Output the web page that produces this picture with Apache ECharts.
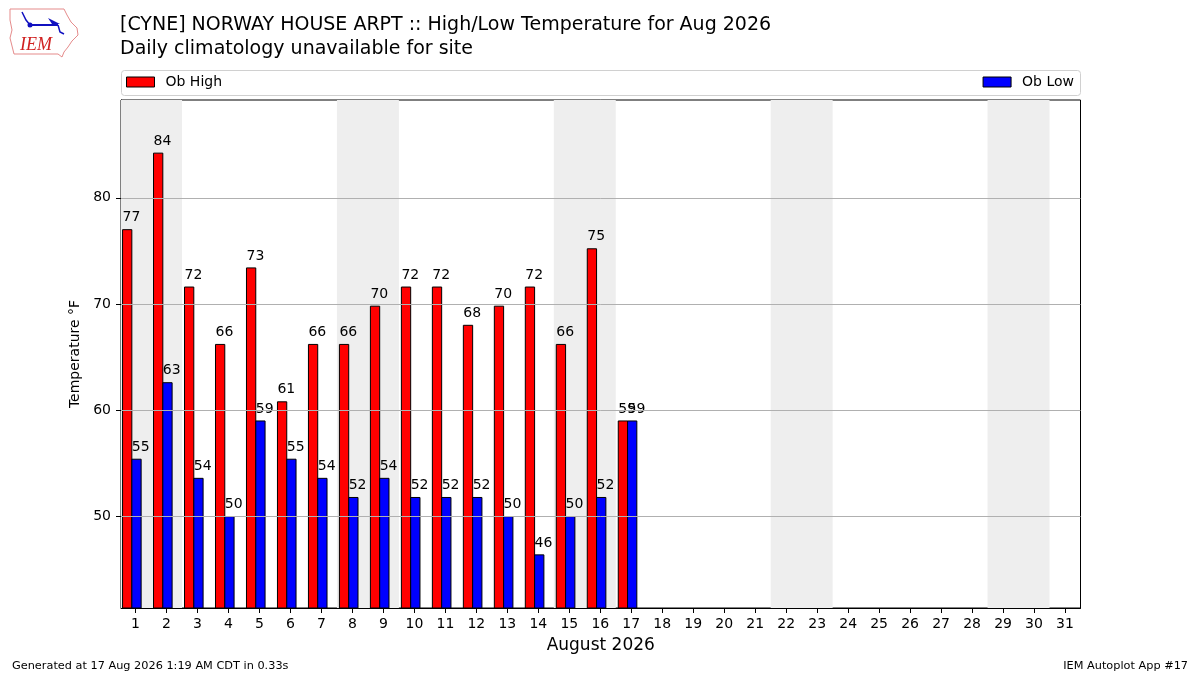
<!DOCTYPE html>
<html>
<head>
<meta charset="utf-8">
<script src="https://cdn.jsdelivr.net/npm/echarts@6/dist/echarts.min.js"></script>
<style>
html,body{margin:0;padding:0;background:#fff;}
#chart{width:1200px;height:675px;}
</style>
</head>
<body>
<div id="chart"></div>
<script>
// ---- data ----
const days = [1,2,3,4,5,6,7,8,9,10,11,12,13,14,15,16,17];
const obHigh = [77.0,84.2,71.6,66.2,73.4,60.8,66.2,66.2,69.8,71.6,71.6,68.0,69.8,71.6,66.2,75.2,59.0];
const obLow  = [55.4,62.6,53.6,50.0,59.0,55.4,53.6,51.8,53.6,51.8,51.8,51.8,50.0,46.4,50.0,51.8,59.0];
const xTicks = [1,2,3,4,5,6,7,8,9,10,11,12,13,14,15,16,17,18,19,20,21,22,23,24,25,26,27,28,29,30,31];
const yTicks = [50,60,70,80];
const weekends = [[1,2],[8,9],[15,16],[22,23],[29,30]];
const titleText = '[CYNE] NORWAY HOUSE ARPT :: High/Low Temperature for Aug 2026';
const subtitleText = 'Daily climatology unavailable for site';
const yMin = 41.4, yMax = 89.2;

const FONT = 'DejaVu Sans';
const chart = echarts.init(document.getElementById('chart'), null, {renderer:'canvas'});

function barRenderer(off0, off1, color) {
  return function (params, api) {
    const d = api.value(0), v = api.value(1);
    const p0 = api.coord([d + off0, v]);
    const p1 = api.coord([d + off1, yMin]);
    return {
      type: 'group',
      children: [
        {type:'rect', shape:{x:p0[0], y:p0[1], width:p1[0]-p0[0], height:p1[1]-p0[1]},
         style:{fill:color, stroke:'#000', lineWidth:1}},
        {type:'text', z2: 20, style:{text:String(Math.round(v)), x:p0[0], y:p0[1]-5,
         align:'left', verticalAlign:'bottom', font:'14px "DejaVu Sans"', fill:'#000'}}
      ]
    };
  };
}

const option = {
  backgroundColor: '#fff',
  animation: false,
  textStyle: {fontFamily: FONT},
  title: [
    {text: titleText, left: 120, top: 16, padding:0, textStyle:{fontSize:19, fontWeight:'normal', color:'#000', fontFamily:FONT}},
    {text: subtitleText, left: 120, top: 40, padding:0, textStyle:{fontSize:19, fontWeight:'normal', color:'#000', fontFamily:FONT}},
    {text: 'Generated at 17 Aug 2026 1:19 AM CDT in 0.33s', left: 12, top: 661, padding:0, textStyle:{fontSize:11.3, fontWeight:'normal', color:'#000', fontFamily:FONT}},
    {text: 'IEM Autoplot App #17', right: 12, top: 661, padding:0, textStyle:{fontSize:11.3, fontWeight:'normal', color:'#000', fontFamily:FONT}}
  ],
  legend: [
    {data:['Ob High'], left: 126, top: 75, padding:0, icon:'rect', itemWidth: 28, itemHeight: 10,
     itemStyle:{borderColor:'#000', borderWidth:1},
     textStyle:{fontSize:14, color:'#000', fontFamily:FONT, padding:[0,0,0,6]}},
    {data:['Ob Low'], right: 126, top: 75, padding:0, icon:'rect', itemWidth: 28, itemHeight: 10,
     itemStyle:{borderColor:'#000', borderWidth:1},
     textStyle:{fontSize:14, color:'#000', fontFamily:FONT, padding:[0,0,0,6]}}
  ],
  graphic: [
    {type:'rect', left:121, top:70, z:-1, shape:{width:959, height:25, r:3},
     style:{fill:'#fff', stroke:'#d0d0d0', lineWidth:1}},
    // simple IEM logo
    {type:'polygon', z:1, shape:{points:[[10,9],[64,9],[67,15],[71,22],[77,28],[78,35],[72,41],[68,47],[64,52],[62,57],[58,54],[14,54],[12,46],[10,38],[12,30],[10,20]]},
     style:{fill:'none', stroke:'#e58b8b', lineWidth:1}},
    {type:'polyline', z:2, shape:{points:[[30,25],[58,25]]}, style:{stroke:'#1010c0', lineWidth:2}},
    {type:'polyline', z:2, shape:{points:[[58,25],[60,32],[64,34]]}, style:{stroke:'#1010c0', lineWidth:1.5}},
    {type:'polyline', z:2, shape:{points:[[22,12],[26,20],[30,25]]}, style:{stroke:'#1010c0', lineWidth:1.5}},
    {type:'polygon', z:2, shape:{points:[[48,18],[56,22],[60,24],[52,24]]}, style:{fill:'#1010c0'}},
    {type:'circle', z:2, shape:{cx:30, cy:25, r:2.5}, style:{fill:'#1010c0'}},
    {type:'text', z:2, left:20, top:36, style:{text:'IEM', font:'italic 18px "Liberation Serif"', fill:'#d02020'}}
  ],
  grid: {left:121, right:119.5, top:100, bottom:67, show:true, borderColor:'#000', borderWidth:1, backgroundColor:'transparent'},
  xAxis: {
    type:'value', min:0.53, max:31.5,
    name:'August 2026', nameLocation:'middle', nameGap:29,
    nameTextStyle:{fontSize:17, color:'#000', fontFamily:FONT},
    axisLine:{show:true, onZero:false, lineStyle:{color:'#000', width:1}},
    axisTick:{show:true, length:5, lineStyle:{color:'#000'}, customValues: xTicks},
    axisLabel:{show:true, customValues: xTicks, fontSize:14, color:'#000', margin:9, fontFamily:FONT},
    splitLine:{show:false}
  },
  yAxis: {
    type:'value', min:yMin, max:yMax,
    name:'Temperature °F', nameLocation:'middle', nameGap:35,
    nameTextStyle:{fontSize:14, color:'#000', fontFamily:FONT},
    axisLine:{show:true, lineStyle:{color:'#000', width:1}},
    axisTick:{show:true, length:5, lineStyle:{color:'#000'}, customValues: yTicks},
    axisLabel:{show:true, customValues: yTicks, fontSize:14, color:'#000', margin:10, fontFamily:FONT},
    splitLine:{show:false}
  },
  series: [
    {
      name:'weekends', type:'line', data:[], silent:true, z:0,
      markArea:{silent:true, itemStyle:{color:'#eeeeee'},
        data: weekends.map(w => [{xAxis: w[0]-0.5}, {xAxis: w[1]+0.5}])}
    },
    {
      name:'Ob High', type:'custom', z:3, clip:true,
      itemStyle:{color:'#ff0000', borderColor:'#000', borderWidth:1},
      renderItem: barRenderer(-0.42, -0.12, '#ff0000'),
      encode:{x:0, y:1},
      data: days.map((d,i) => [d, obHigh[i]])
    },
    {
      name:'Ob Low', type:'custom', z:3, clip:true,
      itemStyle:{color:'#0000ff', borderColor:'#000', borderWidth:1},
      renderItem: barRenderer(-0.12, 0.18, '#0000ff'),
      encode:{x:0, y:1},
      data: days.map((d,i) => [d, obLow[i]])
    },
    {
      name:'grid', type:'line', data:[], silent:true, z:5,
      markLine:{silent:true, symbol:['none','none'], label:{show:false},
        lineStyle:{color:'#b0b0b0', width:1, type:'solid'},
        data: yTicks.map(v => ({yAxis: v}))}
    }
  ]
};
chart.setOption(option);
</script>
</body>
</html>
